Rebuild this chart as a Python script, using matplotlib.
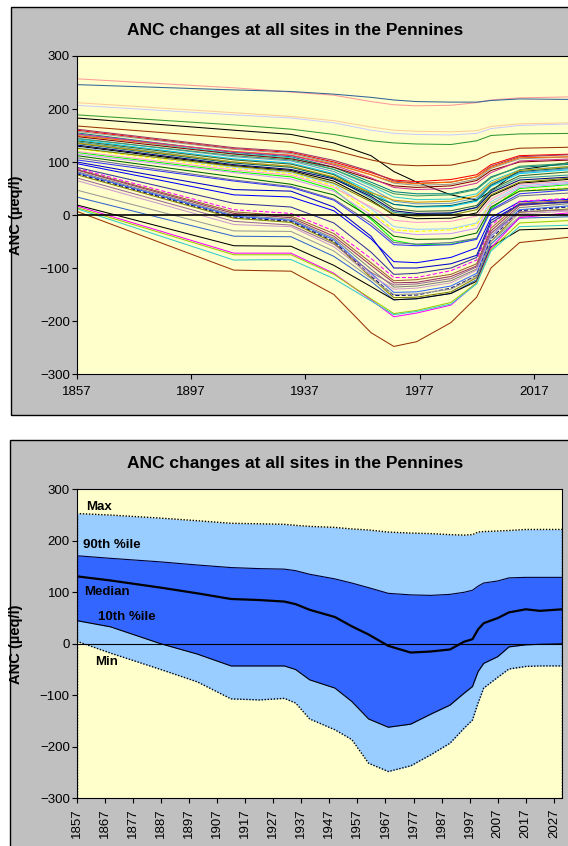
import matplotlib
matplotlib.use("Agg")
import matplotlib.pyplot as plt
from matplotlib.patches import Rectangle

plt.rcParams['font.family'] = ['Liberation Sans', 'DejaVu Sans']

# ---------------- DATA ----------------
title = "ANC changes at all sites in the Pennines"
ylabel = "ANC (\u00b5eq/l)"

# Top chart: ANC at key years for each site
key_years = [1857, 1912, 1932, 1947, 1960, 1968, 1976, 1988, 1997, 2002, 2012, 2031]

site_01 = [257, 240, 232, 226, 214, 208, 206, 207, 212, 217, 221, 223]
site_02 = [246, 236, 233, 228, 222, 217, 214, 213, 213, 216, 219, 218]
site_03 = [212, 193, 186, 178, 166, 160, 158, 157, 159, 167, 172, 174]
site_04 = [207, 189, 183, 174, 160, 154, 152, 151, 154, 163, 169, 172]
site_05 = [189, 170, 162, 152, 140, 136, 134, 133, 140, 150, 153, 154]
site_06 = [183, 160, 152, 136, 112, 82, 62, 38, 28, 45, 85, 100]
site_07 = [168, 145, 137, 122, 104, 95, 93, 94, 104, 117, 126, 128]
site_08 = [160, 125, 118, 100, 80, 66, 63, 67, 76, 95, 112, 115]
site_09 = [162, 127, 120, 103, 82, 64, 60, 62, 72, 92, 110, 114]
site_10 = [158, 124, 116, 98, 76, 60, 56, 58, 68, 88, 106, 110]
site_11 = [155, 118, 110, 90, 62, 44, 40, 40, 50, 72, 90, 96]
site_12 = [152, 116, 108, 86, 55, 34, 29, 30, 40, 64, 85, 92]
site_13 = [150, 120, 113, 96, 76, 62, 59, 62, 72, 90, 108, 110]
site_14 = [148, 115, 106, 90, 68, 55, 52, 55, 65, 84, 100, 104]
site_15 = [145, 110, 102, 82, 50, 26, 21, 22, 32, 58, 80, 88]
site_16 = [142, 106, 98, 78, 44, 20, 15, 16, 26, 54, 78, 86]
site_17 = [140, 104, 96, 76, 40, 12, 7, 8, 18, 48, 74, 82]
site_18 = [138, 100, 92, 70, 32, 5, 1, 3, 15, 45, 70, 76]
site_19 = [132, 95, 86, 68, 35, 8, 3, 4, 14, 42, 66, 72]
site_20 = [130, 93, 84, 64, 28, 0, -7, -6, 4, 36, 60, 68]
site_21 = [128, 90, 80, 58, 12, -22, -27, -26, -15, 25, 55, 62]
site_22 = [125, 88, 78, 55, 5, -28, -31, -28, -18, 22, 46, 52]
site_23 = [118, 82, 72, 48, -8, -48, -56, -55, -44, 12, 50, 58]
site_24 = [112, 72, 58, 38, -5, -40, -46, -45, -34, 15, 45, 50]
site_25 = [108, 66, 54, 30, -15, -52, -55, -52, -44, 8, 36, 42]
site_26 = [120, 85, 75, 52, 15, -10, -14, -12, -2, 30, 58, 64]
site_27 = [115, 80, 68, 45, 0, -32, -37, -35, -25, 20, 52, 60]
site_28 = [135, 98, 90, 70, 38, 20, 16, 18, 28, 56, 82, 90]
site_29 = [126, 92, 82, 60, 25, 2, -2, 0, 10, 38, 62, 70]
site_30 = [136, 100, 92, 72, 42, 28, 24, 26, 36, 60, 84, 92]
site_31 = [104, 64, 52, 28, -20, -56, -58, -56, -46, 10, 40, 48]
site_32 = [144, 112, 104, 86, 58, 40, 36, 38, 48, 70, 92, 98]
site_33 = [153, 119, 112, 94, 70, 52, 48, 50, 60, 80, 102, 106]
site_34 = [97, 38, 34, 8, -45, -88, -90, -80, -62, -5, 25, 30]
site_35 = [88, 10, 3, -30, -82, -118, -118, -105, -85, -20, 26, 32]
site_36 = [86, 6, -2, -35, -90, -124, -122, -112, -92, -25, 22, 28]
site_37 = [85, 3, -5, -40, -95, -128, -127, -116, -96, -30, 18, 26]
site_38 = [82, 0, -8, -44, -102, -136, -134, -124, -102, -35, 14, 22]
site_39 = [80, -2, -10, -47, -110, -146, -145, -134, -110, -40, 10, 18]
site_40 = [78, -4, -12, -50, -115, -152, -151, -138, -114, -45, 8, 16]
site_41 = [76, -6, -14, -52, -118, -156, -155, -145, -118, -50, 5, 12]
site_42 = [65, -18, -22, -60, -114, -140, -138, -128, -104, -38, 2, 8]
site_43 = [100, 48, 45, 15, -40, -100, -100, -92, -76, -10, 20, 25]
site_44 = [47, -30, -31, -68, -120, -150, -149, -140, -115, -50, -3, 2]
site_45 = [34, -40, -41, -78, -125, -160, -158, -148, -122, -55, -6, -3]
site_46 = [70, -12, -19, -55, -108, -132, -130, -120, -98, -34, 6, 10]
site_47 = [90, 22, 15, -15, -70, -112, -110, -100, -80, -15, 20, 24]
site_48 = [19, -58, -59, -95, -135, -160, -158, -148, -125, -60, -28, -25]
site_49 = [17, -72, -72, -110, -160, -192, -185, -170, -128, -62, -5, 5]
site_50 = [14, -75, -75, -112, -158, -186, -180, -165, -128, -65, -15, -10]
site_51 = [12, -85, -84, -120, -162, -188, -182, -168, -130, -68, -22, -19]
site_52 = [7, -104, -106, -150, -222, -248, -239, -203, -155, -100, -52, -41]

site_colors = ['#FF9999', '#336699', '#FFCC99', '#CCCCFF', '#339933', '#000000',
               '#993300', '#FF0000', '#993366', '#969696', '#008080', '#33CCCC',
               '#FF6600', '#800000', '#6699CC', '#00CCFF', '#336633', '#339999',
               '#000080', '#000000', '#99CCFF', '#FFFF00', '#00FF00', '#006600',
               '#666699', '#FF99CC', '#CC99FF', '#006666', '#808000', '#CC9900',
               '#3333FF', '#339966', '#CC3399', '#0000FF', '#FF00FF', '#996633',
               '#993366', '#808080', '#3366FF', '#000080', '#808000', '#CC99CC',
               '#0000CC', '#999999', '#3366CC', '#996699', '#333399', '#000000',
               '#FF00FF', '#99CC00', '#33CCCC', '#993300']
dashed_sites = [22, 35, 40]

top_xlim = [1857, 2057]
top_xticks = [1857, 1897, 1937, 1977, 2017]
yticks = [-300, -200, -100, 0, 100, 200, 300]

# Bottom chart: percentile envelope
years_q = [1857, 1869, 1887, 1900, 1912, 1922, 1931, 1935, 1940, 1949, 1955, 1961,
           1968, 1976, 1983, 1990, 1995, 1998, 2000, 2002, 2007, 2011, 2017, 2022, 2030]
anc_max = [253, 250, 244, 239, 234, 233, 232, 230, 228, 226, 223, 221,
           217, 215, 214, 212, 211, 212, 217, 218, 219, 220, 222, 222, 222]
anc_p90 = [171, 166, 159, 153, 148, 146, 145, 142, 135, 126, 118, 109,
           98, 95, 94, 96, 100, 104, 112, 118, 122, 128, 129, 129, 129]
anc_median = [131, 123, 109, 98, 87, 85, 82, 77, 66, 52, 34, 18,
              -4, -17, -15, -11, 4, 9, 28, 40, 50, 61, 67, 64, 67]
anc_p10 = [45, 33, 0, -20, -43, -43, -43, -50, -70, -86, -112, -146,
           -162, -156, -137, -119, -96, -83, -54, -38, -25, -6, -2, -1, 0]
anc_min = [5, -18, -50, -74, -107, -109, -106, -115, -146, -167, -186, -232,
           -248, -237, -216, -193, -164, -148, -115, -86, -65, -49, -44, -43, -43]
bottom_xticks = list(range(1857, 2028, 10))
band_labels = ["Max", "90th %ile", "Median", "10th %ile", "Min"]
band_label_pos = [(1860.3, 265), (1859.4, 191), (1859.6, 100), (1864.5, 53), (1863.5, -36)]

# ---------------- STYLE / LAYOUT ----------------
W, H = 568, 846
BG = '#FFFFCC'
PANEL = '#C0C0C0'
LIGHT = '#99CCFF'
DARK = '#3366FF'

fig = plt.figure(figsize=(W / 100, H / 100), dpi=100)
fig.patch.set_facecolor('white')


def fx(px):
    return px / W


def fy(py):
    return 1 - py / H


# gray chart panels
fig.add_artist(Rectangle((fx(10.5), fy(415)), 1.2, fy(7) - fy(415),
                         transform=fig.transFigure, facecolor=PANEL,
                         edgecolor='black', lw=1.0, zorder=0))
fig.add_artist(Rectangle((fx(10), -0.2), 1.2, fy(440) + 0.2,
                         transform=fig.transFigure, facecolor=PANEL,
                         edgecolor='black', lw=1.0, zorder=0))


def style_axes(ax):
    ax.set_facecolor(BG)
    for s in ax.spines.values():
        s.set_color('black')
        s.set_linewidth(0.8)
    ax.tick_params(axis='both', direction='out', length=3.5, width=0.8,
                   labelsize=9.5, colors='black')
    ax.tick_params(axis='y', pad=1.5)
    ax.set_ylim(-300, 300)
    ax.set_yticks(yticks)
    ax.set_ylabel(ylabel, fontsize=10.5, fontweight='bold', labelpad=0)


# ---------------- TOP CHART ----------------
px_per_year_top = 2.857
left_px = 76.7
ax1_w = (top_xlim[1] - top_xlim[0]) * px_per_year_top
ax1 = fig.add_axes([fx(left_px), fy(374), fx(ax1_w), fy(56) - fy(374)])
style_axes(ax1)
ax1.yaxis.set_label_coords(-fx(left_px - 23) / fx(ax1_w), 0.5)

sites = [site_01, site_02, site_03, site_04, site_05, site_06, site_07, site_08,
         site_09, site_10, site_11, site_12, site_13, site_14, site_15, site_16,
         site_17, site_18, site_19, site_20, site_21, site_22, site_23, site_24,
         site_25, site_26, site_27, site_28, site_29, site_30, site_31, site_32,
         site_33, site_34, site_35, site_36, site_37, site_38, site_39, site_40,
         site_41, site_42, site_43, site_44, site_45, site_46, site_47, site_48,
         site_49, site_50, site_51, site_52]
for i, (vals, col) in enumerate(zip(sites, site_colors), start=1):
    ls = (0, (4, 2)) if i in dashed_sites else '-'
    ax1.plot(key_years, vals, color=col, lw=0.75, ls=ls, zorder=2)
ax1.axhline(0, color='black', lw=1.2, zorder=5)
ax1.set_xlim(top_xlim)
ax1.set_xticks(top_xticks)
ax1.tick_params(axis='x', pad=5)
fig.text(fx(295), fy(30.5), title, ha='center', va='center',
         fontsize=12.5, fontweight='bold')

# ---------------- BOTTOM CHART ----------------
ax2 = fig.add_axes([fx(76.7), fy(798.3), fx(562.3 - 76.7), fy(489.3) - fy(798.3)])
style_axes(ax2)
ax2.yaxis.set_label_coords(-fx(76.7 - 23) / fx(562.3 - 76.7), 0.5)
ax2.fill_between(years_q, anc_min, anc_max, color=LIGHT, lw=0, zorder=1)
ax2.fill_between(years_q, anc_p10, anc_p90, color=DARK, lw=0, zorder=2)
ax2.plot(years_q, anc_p90, color='#000033', lw=0.8, zorder=3)
ax2.plot(years_q, anc_p10, color='black', lw=0.8, zorder=3)
ax2.plot(years_q, anc_max, color='black', lw=1.0, ls=(0, (1, 1.2)), zorder=3)
ax2.plot(years_q, anc_min, color='black', lw=1.0, ls=(0, (1, 1.2)), zorder=3)
ax2.plot([years_q[0], years_q[0]], [-300, anc_max[0]], color='black', lw=1.0,
         ls=(0, (1, 1.2)), zorder=3)
ax2.plot([years_q[-1], years_q[-1]], [-300, anc_max[-1]], color='black', lw=1.0,
         ls=(0, (1, 1.2)), zorder=3)
ax2.axhline(0, color='black', lw=0.8, zorder=4)
ax2.plot(years_q, anc_median, color='black', lw=1.6, zorder=5)
ax2.set_xlim(years_q[0], years_q[-1])
ax2.set_xticks(bottom_xticks)
ax2.set_xticklabels([str(y) for y in bottom_xticks], rotation=90)
ax2.tick_params(axis='x', pad=4)
for lab, (lx, ly) in zip(band_labels, band_label_pos):
    ax2.text(lx, ly, lab, ha='left', va='center', fontsize=9.5,
             fontweight='bold', color='black', zorder=6)
fig.text(fx(295), fy(463.3), title, ha='center', va='center',
         fontsize=12.5, fontweight='bold')

fig.savefig('out.png', dpi=100, facecolor='white')
